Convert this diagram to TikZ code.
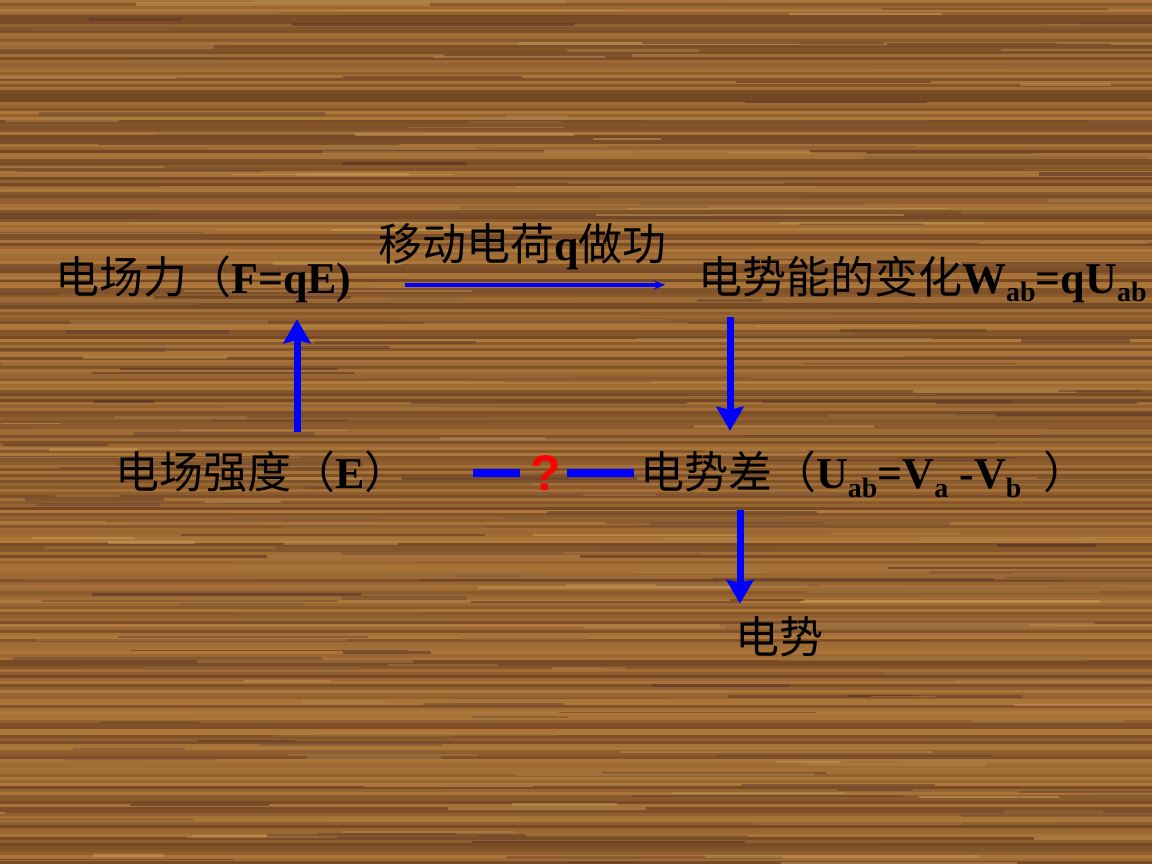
\documentclass[tikz,border=0pt]{standalone}
\usepackage{fontspec}
\setmainfont{Liberation Serif}
\setsansfont{Liberation Sans}
\newfontfamily\cjk{Noto Sans CJK SC}
\usetikzlibrary{arrows.meta}
\definecolor{woodlight}{RGB}{190,134,64}
\definecolor{wooddark}{RGB}{98,56,30}
\definecolor{woodstreak}{RGB}{80,42,34}
\definecolor{woodgold}{RGB}{205,160,90}
\definecolor{arrowblue}{RGB}{0,0,255}
\tikzset{lbl/.style={inner sep=0pt,anchor=base west,text height=32pt,text depth=10pt,font=\fontsize{44}{48}\selectfont}}
\tikzset{bigarrow/.style={arrowblue,line width=7pt,-{Stealth[length=24pt,width=27pt,inset=3pt]}}}
\tikzset{thinarrow/.style={arrowblue,line width=3.5pt,-{Stealth[length=11pt,width=9pt]}}}
\tikzset{bar/.style={arrowblue,line width=8pt}}
\newcommand\zh[1]{{\cjk #1}}
\newcommand\sub[2][8pt]{\raisebox{-#1}{\fontsize{28}{30}\selectfont #2}}

\begin{document}
\begin{tikzpicture}[x=1pt,y=-1pt]
        \useasboundingbox (0,0) rectangle (1152,864);
        % wood background
        \pgfmathsetseed{17}
        \foreach \i in {0,...,287}{
          \pgfmathsetmacro\m{int(20+65*rnd)}
          \fill[woodlight!\m!wooddark] (0,3*\i) rectangle (1152,3*\i+3);
        }
        \foreach \i in {1,...,320}{
          \pgfmathsetmacro\xa{1200*rnd-100}
          \pgfmathsetmacro\streaklen{60+260*rnd}
          \pgfmathsetmacro\ya{864*rnd}
          \pgfmathsetmacro\m{int(100*rnd)}
          \pgfmathsetmacro\w{1+2.5*rnd}
          \draw[line width=\w pt,woodstreak!\m!woodgold,opacity=.55] (\xa,\ya) -- ++(\streaklen,0);
        }
        % labels
        \node(force)[lbl] at (55,293){\zh{电场力（}\textbf{F=qE)}};
        \node(work)[lbl] at (378,260){\zh{移动电荷}\textbf{q}\zh{做功}};
        \node(energy)[lbl] at (698,293){\zh{电势能的变化}\textbf{W\sub{ab}=qU\sub{ab}}};
        \node(field)[lbl] at (115,488){\zh{电场强度（}\textbf{E}\zh{）}};
        \node(diff)[lbl] at (640,488){\zh{电势差（}\textbf{U\sub[9pt]{ab}=V\sub[9pt]{a} -V\sub[9pt]{b}}\ \ \zh{）}};
        \node(pot)[lbl] at (735,653){\zh{电势}};
        \node(ask)[inner sep=0pt,red,font=\sffamily\bfseries\fontsize{50}{54}\selectfont] at (546,473){?};
        \coordinate(upx) at (297,0);
        \coordinate(downx) at (730,0);
        \coordinate(lowx) at (740,0);
        % connectors
        \draw[thinarrow,shorten <=53pt,shorten >=33pt]
        ([yshift=-3pt]force.east) -- ([yshift=-3pt]energy.west);
        \draw[bigarrow,shorten <=24pt,shorten >=16pt] (field.north -| upx) -- (force.south -| upx);
        \draw[bigarrow,shorten <=14pt,shorten >=25pt] (energy.south -| downx) -- (diff.north -| downx);
        \draw[bigarrow,shorten <=12pt,shorten >=17pt] (diff.south -| lowx) -- (pot.north -| lowx);
        \draw[bar,shorten <=64pt,shorten >=11pt] ([yshift=4pt]field.east) -- (ask.west);
        \draw[bar,shorten <=6pt,shorten >=6pt] (ask.east) -- ([yshift=4pt]diff.west);
      \end{tikzpicture}
\end{document}
